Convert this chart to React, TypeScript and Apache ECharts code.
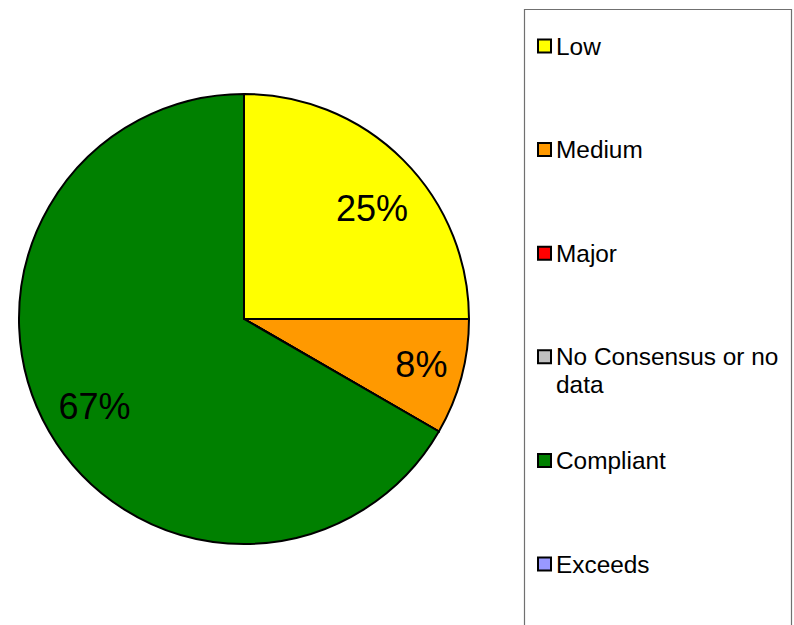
import React, { useEffect, useRef } from "react";
import * as echarts from "echarts";

const categories = ["Low", "Medium", "Major", "No Consensus or no data", "Compliant", "Exceeds"];
const legendLabels = ["Low", "Medium", "Major", "No Consensus or no\ndata", "Compliant", "Exceeds"];
const counts = [3, 1, 0, 0, 8, 0];
const colors = ["#FFFF00", "#FF9900", "#FF0000", "#C0C0C0", "#008000", "#9999FF"];
// label nudges (styling only) to mimic the original label placement
const labelOffsets = [[1, 16], [4, -1], [0, 0], [0, 0], [6, -2], [0, 0]];

const FONT = 'Arial, "Liberation Sans", sans-serif';

export default function App() {
  const ref = useRef<HTMLDivElement>(null);

  useEffect(() => {
    if (!ref.current) return;
    const chart = echarts.init(ref.current, undefined, { renderer: "svg" });
    const data = categories.map((name, i) => ({
      name,
      value: counts[i],
      itemStyle: { color: colors[i] },
    }));

    const legendTop = 46;
    const legendStep = 103.6;
    const legendGraphics: any[] = [
      {
        type: "rect",
        shape: { x: 524.5, y: 9.5, width: 267, height: 700 },
        style: { fill: "#ffffff", stroke: "#707070", lineWidth: 1.2 },
        z: 1,
      },
    ];
    categories.forEach((_, i) => {
      const cy = legendTop + i * legendStep;
      legendGraphics.push({
        type: "rect",
        shape: { x: 538, y: cy - 6.5, width: 13, height: 13 },
        style: { fill: colors[i], stroke: "#000000", lineWidth: 2 },
        z: 2,
      });
      const multi = legendLabels[i].includes("\n");
      legendGraphics.push({
        type: "text",
        x: 556,
        y: multi ? cy - 14 : cy,
        style: {
          text: legendLabels[i],
          fill: "#000000",
          fontSize: 24.4,
          fontFamily: FONT,
          lineHeight: 28,
          verticalAlign: multi ? "top" : "middle",
          textAlign: "left",
        },
        z: 2,
      });
    });

    chart.setOption({
      animation: false,
      backgroundColor: "#ffffff",
      graphic: legendGraphics,
      series: [
        {
          type: "pie",
          center: [244, 319],
          radius: [0, 225],
          startAngle: 90,
          clockwise: true,
          minAngle: 0,
          avoidLabelOverlap: false,
          silent: true,
          label: { show: false },
          labelLine: { show: false },
          itemStyle: { borderColor: "#000000", borderWidth: 2 },
          emphasis: { disabled: true },
          data,
        },
        {
          type: "pie",
          center: [244, 319],
          radius: [128, 225],
          startAngle: 90,
          clockwise: true,
          minAngle: 0,
          avoidLabelOverlap: false,
          silent: true,
          itemStyle: { color: "transparent", borderWidth: 0 },
          emphasis: { disabled: true },
          labelLine: { show: false },
          label: {
            show: true,
            position: "inside",
            fontSize: 36,
            fontFamily: FONT,
            color: "#000000",
            formatter: (p: any) => (p.value > 0 ? Math.round(p.percent) + "%" : ""),
          },
          data: categories.map((name, i) => ({
            name,
            value: counts[i],
            label: { offset: labelOffsets[i] },
          })),
        },
      ],
    });
    return () => chart.dispose();
  }, []);

  return (
    <div
      ref={ref}
      style={{ position: "fixed", left: 0, top: 0, width: 794, height: 625, background: "#fff" }}
    />
  );
}
